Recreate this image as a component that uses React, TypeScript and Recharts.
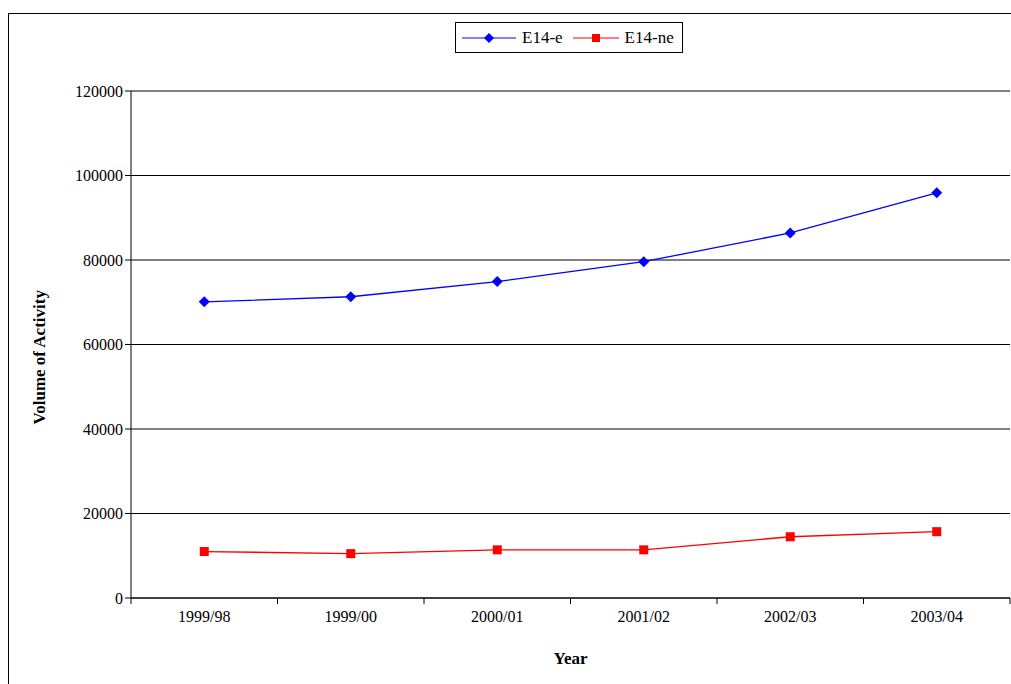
import { LineChart, Line, XAxis, YAxis, CartesianGrid, Legend } from 'recharts';

const years = ['1999/98', '1999/00', '2000/01', '2001/02', '2002/03', '2003/04'];
const e14e = [70100, 71300, 74900, 79600, 86400, 95900];
const e14ne = [11000, 10500, 11400, 11400, 14500, 15700];
const yTicks = [0, 20000, 40000, 60000, 80000, 100000, 120000];

const data = years.map((year, i) => ({ x: i + 0.5, year, e14e: e14e[i], e14ne: e14ne[i] }));
const xTicks = Array.from({ length: years.length * 2 + 1 }, (_, i) => i / 2);

const font = "'Liberation Serif', serif";

const Diamond = (props: any) => {
    const { cx, cy } = props;
    return <path d={`M${cx},${cy - 5.5}L${cx + 5.5},${cy}L${cx},${cy + 5.5}L${cx - 5.5},${cy}Z`} fill="#0000FF" />;
};

const Square = (props: any) => {
    const { cx, cy } = props;
    return <rect x={cx - 4.5} y={cy - 4.5} width={9} height={9} fill="#FF0000" />;
};

const XTick = (props: any) => {
    const { x, y, payload } = props;
    const v = payload.value;
    if (Number.isInteger(v)) {
        return <line x1={x} x2={x} y1={y - 8} y2={y - 2} stroke="#000" />;
    }
    return (
        <text x={x} y={y + 16} textAnchor="middle" fontFamily={font} fontSize={16} fill="#000">
            {years[Math.floor(v)]}
        </text>
    );
};

const LegendBox = () => (
    <div style={{ border: '1px solid #000', display: 'flex', alignItems: 'center', height: 29, padding: '0 6px', fontFamily: font, fontSize: 17, background: '#fff', width: 214 }}>
        <svg width={54} height={12}><line x1={0} x2={54} y1={6} y2={6} stroke="#0000FF" /><path d="M27,1L32,6L27,11L22,6Z" fill="#0000FF" /></svg>
        <span style={{ margin: '0 10px 0 6px' }}>E14-e</span>
        <svg width={46} height={12}><line x1={0} x2={46} y1={6} y2={6} stroke="#FF0000" /><rect x={19} y={2} width={8} height={8} fill="#FF0000" /></svg>
        <span style={{ marginLeft: 6 }}>E14-ne</span>
    </div>
);

export default function App() {
    return (
        <div style={{ position: 'absolute', left: 8, top: 13, width: 1010, height: 680, border: '1px solid #000', boxSizing: 'border-box', background: '#fff', fontFamily: font }}>
            <LineChart width={1003} height={671} data={data} margin={{ top: 46, right: 2, left: 62, bottom: 57 }} style={{ fontFamily: font }}>
                <CartesianGrid vertical={false} stroke="#000" strokeWidth={1} />
                <XAxis
                    dataKey="x"
                    type="number"
                    domain={[0, years.length]}
                    ticks={xTicks}
                    interval={0}
                    tick={<XTick />}
                    tickLine={false}
                    axisLine={{ stroke: '#000' }}
                    height={30}
                    label={{ value: 'Year', position: 'insideBottom', offset: -36, fontFamily: font, fontSize: 17, fontWeight: 'bold', fill: '#000' }}
                />
                <YAxis
                    domain={[0, 120000]}
                    ticks={yTicks}
                    width={60}
                    tick={{ fontFamily: font, fontSize: 16, fill: '#000' }}
                    tickLine={{ stroke: '#000' }}
                    tickSize={6}
                    axisLine={{ stroke: '#000' }}
                    label={{ value: 'Volume of Activity', angle: -90, position: 'insideLeft', offset: -32, dy: 80, fontFamily: font, fontSize: 17, fontWeight: 'bold', fill: '#000' }}
                />
                <Legend verticalAlign="top" content={<LegendBox />} wrapperStyle={{ top: 8, left: 446, width: 'auto' }} />
                <Line dataKey="e14e" name="E14-e" stroke="#0000FF" strokeWidth={1.3} dot={<Diamond />} isAnimationActive={false} />
                <Line dataKey="e14ne" name="E14-ne" stroke="#FF0000" strokeWidth={1.3} dot={<Square />} isAnimationActive={false} />
            </LineChart>
        </div>
    );
}
